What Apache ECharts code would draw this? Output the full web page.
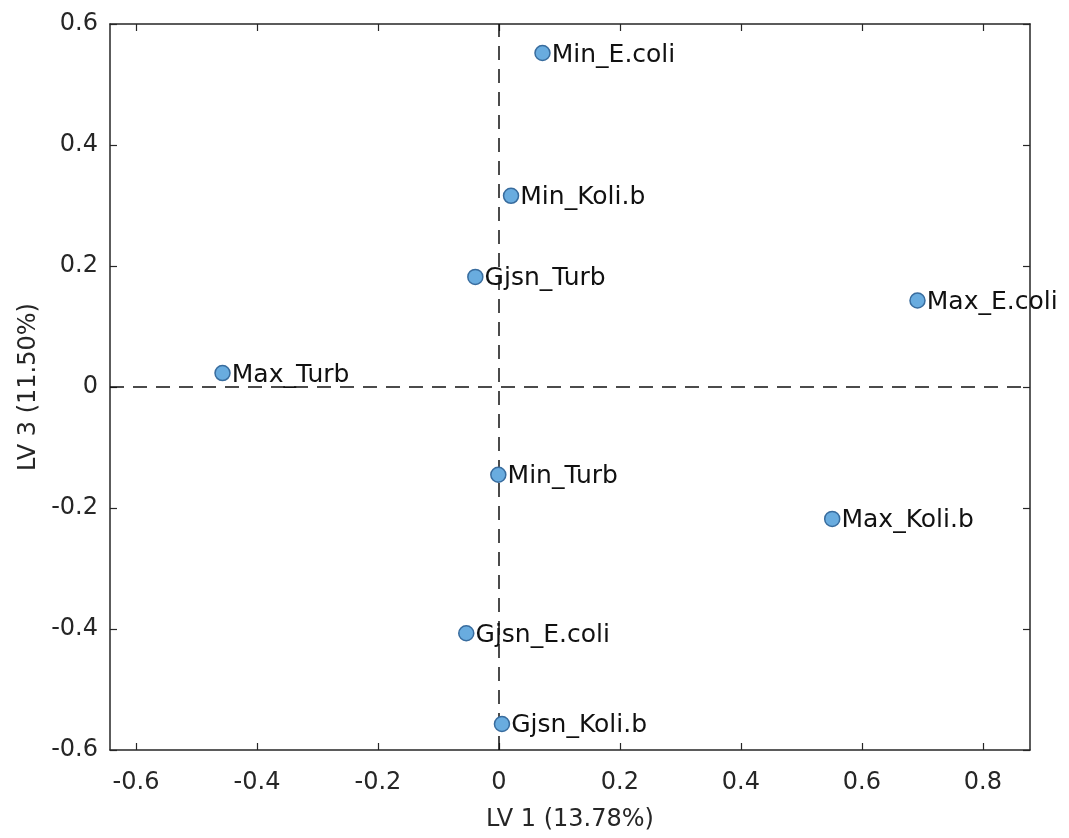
<!DOCTYPE html>
<html>
<head>
<meta charset="utf-8">
<title>LV 1 vs LV 3 loadings</title>
<script src="https://cdn.jsdelivr.net/npm/echarts@6/dist/echarts.min.js"></script>
<style>
  html, body { margin: 0; padding: 0; background: #ffffff; }
  #chart { width: 1069px; height: 838px; }
</style>
</head>
<body>
<div id="chart"></div>
<script>
// Variable names and their loadings on latent variables 1 and 3
const names = ['Min_E.coli', 'Min_Koli.b', 'Gjsn_Turb', 'Max_E.coli', 'Max_Turb',
               'Min_Turb', 'Max_Koli.b', 'Gjsn_E.coli', 'Gjsn_Koli.b'];
const lv1 = [0.072, 0.020, -0.039, 0.692, -0.457, -0.001, 0.551, -0.054, 0.005];
const lv3 = [0.552, 0.316, 0.182, 0.143, 0.023, -0.145, -0.218, -0.407, -0.557];

// Tick positions for both axes
const xTicks = [-0.6, -0.4, -0.2, 0, 0.2, 0.4, 0.6, 0.8];
const yTicks = [-0.6, -0.4, -0.2, 0, 0.2, 0.4, 0.6];

const xTitle = 'LV 1 (13.78%)';
const yTitle = 'LV 3 (11.50%)';

const X_MIN = -0.643, X_MAX = 0.878;
const Y_MIN = -0.6, Y_MAX = 0.6;

const FONT = 'DejaVu Sans';
const AXIS_COLOR = '#262626';

const points = names.map((n, i) => ({ name: n, value: [lv1[i], lv3[i]] }));

const frameAxis = (pos, min, max, ticks) => ({
  type: 'value',
  position: pos,
  min: min,
  max: max,
  splitLine: { show: false },
  axisLine: { show: true, onZero: false, lineStyle: { color: AXIS_COLOR, width: 1.5 } },
  axisTick: { show: true, inside: true, length: 7, customValues: ticks,
              lineStyle: { color: AXIS_COLOR, width: 1.2 } },
  axisLabel: { show: false }
});

const tickFormat = v => String(Math.round(v * 10) / 10);

const chart = echarts.init(document.getElementById('chart'), null, { renderer: 'canvas' });

chart.setOption({
  animation: false,
  backgroundColor: '#ffffff',
  grid: { left: 110, right: 39, top: 24, bottom: 88 },
  xAxis: [
    {
      type: 'value',
      position: 'bottom',
      min: X_MIN,
      max: X_MAX,
      name: xTitle,
      nameLocation: 'middle',
      nameGap: 58,
      nameTextStyle: { fontFamily: FONT, fontSize: 24, color: AXIS_COLOR },
      splitLine: { show: false },
      axisLine: { show: true, onZero: false, lineStyle: { color: AXIS_COLOR, width: 1.5 } },
      axisTick: { show: true, inside: true, length: 7, customValues: xTicks,
                  lineStyle: { color: AXIS_COLOR, width: 1.2 } },
      axisLabel: { show: true, customValues: xTicks, margin: 21,
                   fontFamily: FONT, fontSize: 24, color: AXIS_COLOR,
                   formatter: tickFormat }
    },
    frameAxis('top', X_MIN, X_MAX, xTicks)
  ],
  yAxis: [
    {
      type: 'value',
      position: 'left',
      min: Y_MIN,
      max: Y_MAX,
      name: yTitle,
      nameLocation: 'middle',
      nameRotate: 90,
      nameGap: 67,
      nameTextStyle: { fontFamily: FONT, fontSize: 24, color: AXIS_COLOR },
      splitLine: { show: false },
      axisLine: { show: true, onZero: false, lineStyle: { color: AXIS_COLOR, width: 1.5 } },
      axisTick: { show: true, inside: true, length: 7, customValues: yTicks,
                  lineStyle: { color: AXIS_COLOR, width: 1.2 } },
      axisLabel: { show: true, customValues: yTicks, margin: 12,
                   fontFamily: FONT, fontSize: 24, color: AXIS_COLOR,
                   formatter: tickFormat }
    },
    frameAxis('right', Y_MIN, Y_MAX, yTicks)
  ],
  series: [
    {
      type: 'scatter',
      xAxisIndex: 0,
      yAxisIndex: 0,
      data: points,
      symbol: 'circle',
      symbolSize: 15,
      z: 3,
      itemStyle: { color: '#69acdf', borderColor: '#386c9e', borderWidth: 1.5, opacity: 1 },
      label: {
        show: true,
        position: 'right',
        distance: 1,
        offset: [0, 2],
        formatter: p => p.name,
        fontFamily: FONT,
        fontSize: 25,
        color: '#111111'
      },
      emphasis: { disabled: true },
      markLine: {
        silent: true,
        symbol: ['none', 'none'],
        label: { show: false },
        z: 1,
        lineStyle: { color: '#111111', width: 1.5, type: [14, 9] },
        data: [{ xAxis: 0 }, { yAxis: 0 }]
      }
    }
  ]
});
</script>
</body>
</html>
